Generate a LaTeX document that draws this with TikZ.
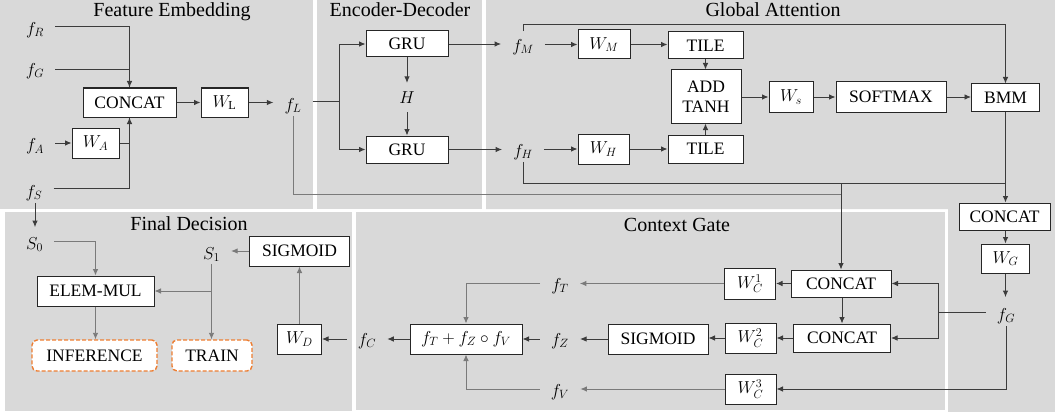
\documentclass[tikz,border=0pt]{standalone}
\usepackage{fontspec}
\setmainfont{Liberation Serif}
\usetikzlibrary{arrows.meta,calc}
\definecolor{panel}{HTML}{D9D9D9}
\definecolor{linedark}{HTML}{3C3C3C}
\definecolor{linelight}{HTML}{7A7A7A}
\definecolor{boxline}{HTML}{262626}
\definecolor{modeorange}{HTML}{ED7D31}
\begin{document}
\begin{tikzpicture}[x=1pt,y=-1pt,
  ln/.style={draw=linedark, line width=0.9pt},
  lnl/.style={draw=linelight, line width=0.9pt},
  arw/.style={-{Latex[length=6.5pt,width=5.5pt]}},
  blk/.style={draw=boxline, fill=white, line width=1pt, inner sep=0pt,
    font=\fontsize{17.5}{20}\selectfont, align=center},
  sym/.style={inner xsep=11pt, inner ysep=2pt, font=\fontsize{17.5}{20}\selectfont},
  ttl/.style={anchor=base, font=\fontsize{20}{24}\selectfont},
  outbox/.style={draw=modeorange, fill=white, dash pattern=on 4pt off 2pt,
    rounded corners=5pt, line width=1.4pt, inner sep=0pt,
    font=\fontsize{17.5}{20}\selectfont}]
\useasboundingbox (0,0) rectangle (1055,412);
\fill[white] (0,0) rectangle (1055,412);

% panels
\fill[panel] (0,0) rectangle (313,209);
\fill[panel] (317,0) rectangle (482,209);
\fill[panel] (486,0) -- (1055,0) -- (1055,412) -- (948,412) -- (948,209) -- (486,209) -- cycle;
\fill[panel] (5,212) rectangle (352,411);
\fill[panel] (356,212) rectangle (945,410);

% panel titles
\node[ttl] (tFE) at (172,17) {Feature Embedding};
\node[ttl] (tED) at (400,17) {Encoder-Decoder};
\node[ttl] (tGA) at (773,17) {Global Attention};
\node[ttl] (tCG) at (677,231) {Context Gate};
\node[ttl] (tFD) at (189,230) {Final Decision};

% ---- feature embedding
\node[sym] (fR) at (35,30) {$f_R$};
\node[sym] (fGin) at (35,71) {$f_G$};
\node[sym] (fA) at (35,146.5) {$f_A$};
\node[sym] (fS) at (34,193) {$f_S$};
\node[blk, minimum width=93pt, minimum height=29pt] (cat1) at (129.5,102.5) {CONCAT};
\node[blk, minimum width=47pt, minimum height=29pt] (WL) at (224.5,102.5) {$W_{\mathrm{L}}$};
\node[blk, minimum width=47pt, minimum height=30pt] (WA) at (95.5,143) {$W_A$};
\node[sym] (fL) at (293,106) {$f_L$};

\draw[ln,arw] ([yshift=4pt]fR.east) -| (cat1.north);
\draw[ln] ([yshift=2pt]fGin.east) -| (cat1.north);
\draw[ln,arw] (cat1) -- (WL);
\draw[ln,arw] (WL.east) -- (WL.east -| fL.west);
\draw[ln,arw] (fA.east |- WA.west) -- (WA.west);
\draw[ln] (WA.east) -| (cat1.south);
\draw[ln,arw] ([yshift=5pt]fS.east) -| (cat1.south);

% ---- encoder-decoder
\node[blk, minimum width=82pt, minimum height=26pt] (gru1) at (407,44) {GRU};
\node[sym] (H) at (407,98) {$H$};
\node[blk, minimum width=82pt, minimum height=27pt] (gru2) at (407,149.5) {GRU};
\coordinate (edj) at (339,101.5);
\draw[ln] (fL.east |- edj) -- (edj);
\draw[ln,arw] (edj) |- (gru1.west);
\draw[ln,arw] (edj) |- (gru2.west);
\draw[ln,arw,shorten >=7pt] (gru1.south) -- (H.north);
\draw[ln,arw,shorten <=6pt] (H.south) -- (gru2.north);

% ---- global attention
\node[sym] (fM) at (523,47) {$f_M$};
\node[sym] (fH) at (523,152) {$f_H$};
\node[blk, minimum width=52pt, minimum height=29pt] (WM) at (604,44.5) {$W_M$};
\node[blk, minimum width=51pt, minimum height=30pt] (WH) at (603.5,149) {$W_H$};
\node[blk, minimum width=75pt, minimum height=27pt] (tile1) at (705.5,45.5) {TILE};
\node[blk, minimum width=75pt, minimum height=28pt] (tile2) at (705.5,149) {TILE};
\node[blk, minimum width=70pt, minimum height=53pt] (add) at (706,96.5) {ADD\\TANH};
\node[blk, minimum width=44pt, minimum height=30pt] (Ws) at (791,97) {$W_s$};
\node[blk, minimum width=110pt, minimum height=30pt] (soft) at (891,97) {SOFTMAX};
\node[blk, minimum width=68pt, minimum height=27pt] (bmm) at (1005.5,97.5) {BMM};

\draw[ln,arw] (gru1.east) -- (gru1.east -| fM.west);
\draw[ln,arw] (gru2.east) -- (gru2.east -| fH.west);
\draw[ln,arw] (fM.east |- WM.west) -- (WM.west);
\draw[ln,arw] (fH.east |- WH.west) -- (WH.west);
\draw[ln,arw] (WM.east) -- (WM.east -| tile1.west);
\draw[ln,arw] (WH.east) -- (WH.east -| tile2.west);
\draw[ln,arw] (tile1.south) -- (tile1.south |- add.north);
\draw[ln,arw] (tile2.north) -- (tile2.north |- add.south);
\draw[ln,arw] (add.east |- Ws.west) -- (Ws.west);
\draw[ln,arw] (Ws) -- (soft);
\draw[ln,arw] (soft.east) -- (soft.east -| bmm.west);
\coordinate (gtop) at (1005.5,24);
\draw[ln,arw] ([yshift=6pt]fM.north) |- (gtop) -- (bmm.north);

% ---- right column
\node[blk, minimum width=91pt, minimum height=27pt] (cat3) at (1004.5,216.5) {CONCAT};
\node[blk, minimum width=48pt, minimum height=29pt] (WG) at (1005.5,258.5) {$W_G$};
\node[sym] (fG) at (1006,316) {$f_G$};
\draw[ln,arw] (bmm.south) -- (bmm.south |- cat3.north);
\draw[ln,arw] (WG.north |- cat3.south) -- (WG.north);
\draw[ln,arw,shorten >=9pt] (WG.south) -- (WG.south |- fG.north);

% ---- context gate
\node[blk, minimum width=100pt, minimum height=27pt] (ccat1) at (841,283.5) {CONCAT};
\node[blk, minimum width=97pt, minimum height=28pt] (ccat2) at (842,338) {CONCAT};
\node[blk, minimum width=51pt, minimum height=31pt] (wc1) at (750,283.5) {$W_C^1$};
\node[blk, minimum width=51pt, minimum height=30pt] (wc2) at (750.5,338) {$W_C^2$};
\node[blk, minimum width=51pt, minimum height=30pt] (wc3) at (750.5,389) {$W_C^3$};
\node[blk, minimum width=100pt, minimum height=30pt] (sig2) at (658,339) {SIGMOID};
\node[blk, minimum width=112pt, minimum height=30pt] (fbox) at (466,339) {$f_T + f_Z \circ f_V$};
\node[sym] (fT) at (560,286) {$f_T$};
\node[sym] (fZ) at (560,341) {$f_Z$};
\node[sym] (fV) at (560,392) {$f_V$};
\node[sym] (fC) at (367,341) {$f_C$};

\coordinate (hj) at (841,183);
\coordinate (lj) at (841,194);
\draw[ln] (fH.south) |- (bmm.south |- hj);
\draw[lnl] (fL.south) |- (lj);
\draw[ln,arw] (hj) -- (ccat1.north);

\coordinate (gj) at (938,312);
\draw[ln] (fG.west |- gj) -- (gj);
\draw[ln,arw] (gj) |- (ccat1.east);
\draw[ln,arw] (gj) |- (ccat2.east);
\draw[ln,arw] (fG.south) |- (wc3.east);

\draw[ln,arw] (ccat1.west) -- (ccat1.west -| wc1.east);
\draw[ln,arw] (ccat1.south -| ccat2.north) -- (ccat2.north);
\draw[ln,arw] (ccat2.west) -- (ccat2.west -| wc2.east);
\draw[ln,arw] (wc2.west) -- (wc2.west -| sig2.east);
\draw[ln,arw] (sig2.west) -- (sig2.west -| fZ.east);
\draw[ln,arw] (fZ.west |- fbox.east) -- (fbox.east);
\draw[ln,arw] (fbox.west) -- (fbox.west -| fC.east);
\draw[lnl,arw] (wc1.west) -- (wc1.west -| fT.east);
\draw[lnl,arw] (wc1.west -| fT.west) -| (fbox.north);
\draw[lnl,arw] (wc3.west) -- (wc3.west -| fV.east);
\draw[lnl,arw] (wc3.west -| fV.west) -| (fbox.south);

% ---- final decision
\node[sym] (S0) at (34.5,244.5) {$S_0$};
\node[sym] (S1) at (211.5,254.5) {$S_1$};
\node[blk, minimum width=100pt, minimum height=30pt] (sig1) at (299.5,251) {SIGMOID};
\node[blk, minimum width=44pt, minimum height=30pt] (WD) at (299.5,339) {$W_D$};
\node[blk, minimum width=117pt, minimum height=30pt] (emul) at (95.5,291) {ELEM-MUL};
\node[outbox, minimum width=125pt, minimum height=31pt] (inf) at (94.5,355.5) {INFERENCE};
\node[outbox, minimum width=80pt, minimum height=31pt] (train) at (212,355.5) {TRAIN};

\draw[ln,arw,shorten >=8pt] ([xshift=1pt]fS.south) -- ([xshift=1pt]fS.south |- S0.north);
\draw[ln,arw] (fC.west |- WD.east) -- (WD.east);
\draw[lnl,arw] (WD.north) -- (WD.north |- sig1.south);
\draw[lnl,arw] (sig1.west) -- (sig1.west -| S1.east);
\draw[lnl,arw] (S1.south) -- (S1.south |- train.north);
\draw[lnl,arw] (S1.south |- emul.east) -- (emul.east);
\draw[lnl,arw] ([yshift=3.5pt]S0.east) -| (emul.north);
\draw[lnl,arw] (emul.south) -- (emul.south |- inf.north);
\end{tikzpicture}
\end{document}
